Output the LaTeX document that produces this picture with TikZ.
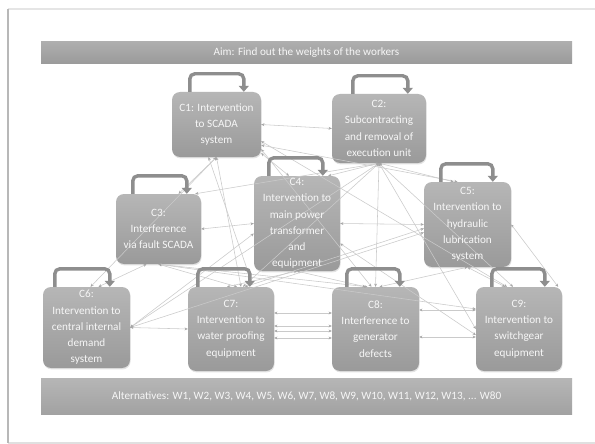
\documentclass[tikz,border=0pt]{standalone}
\usepackage{fontspec}
\setmainfont{Carlito}
\usetikzlibrary{arrows.meta,shadows}

\definecolor{boxtop}{HTML}{B6B6B6}
\definecolor{boxbot}{HTML}{9A9A9A}
\definecolor{bartop}{HTML}{AEAEAE}
\definecolor{barbot}{HTML}{9A9A9A}
\definecolor{bbartop}{HTML}{B6B6B6}
\definecolor{bbarbot}{HTML}{A2A2A2}
\definecolor{loopc}{HTML}{8E8E8E}
\definecolor{linkc}{HTML}{CACACA}
\definecolor{tipc}{HTML}{A6A6A6}
\definecolor{txtc}{HTML}{F6F6F6}

\newcommand\cloop[3]{%
  \draw[loopline] ([xshift=#2pt]#1.north west) -- ++(0,-18) -| ([xshift=#3pt]#1.north west);}

\begin{document}
\begin{tikzpicture}[x=1pt,y=-1pt,
  cbox/.style={draw=none, rounded corners=8pt, top color=boxtop, bottom color=boxbot,
    inner sep=0pt, drop shadow={shadow xshift=0.6pt,shadow yshift=-1.4pt,opacity=0.22}},
  ctext/.style={text=txtc, align=center, font=\fontsize{11.2}{16.3}\selectfont, inner sep=0pt},
  barbox/.style={draw=none, inner sep=0pt, text=txtc, font=\fontsize{11.2}{14}\selectfont},
  loopline/.style={draw=loopc, line width=3.4pt, rounded corners=5pt,
    -{Triangle[length=6pt,width=10pt]}},
  link/.style={draw=linkc, line width=0.55pt,
    {Stealth[length=3.2pt,width=2.8pt,color=tipc]}-{Stealth[length=3.2pt,width=2.8pt,color=tipc]}}
]
\useasboundingbox (0,0) rectangle (595,444);
\fill[white] (0,0) rectangle (595,444);

% outer frame
\draw[draw=black!10, line width=2pt] (8,9) -- (596,9);
\draw[draw=black!12, line width=1.5pt] (8,443) -- (596,443);
\draw[draw=black!28, line width=1.6pt] (8,9) -- (8,443);

% bars
\node[barbox, top color=bartop, bottom color=barbot, minimum width=531pt, minimum height=22pt]
  (aim) at (306.5,53) {Aim: Find out the weights of the workers};
\node[barbox, top color=bbartop, bottom color=bbarbot, minimum width=531pt, minimum height=36pt]
  (alt) at (306.5,396) {Alternatives: W1, W2, W3, W4, W5, W6, W7, W8, W9, W10, W11, W12, W13, ... W80};

% boxes
\node[cbox, minimum width=89pt, minimum height=65pt] (C1) at (216.5,124.5) {};
\node[cbox, minimum width=94pt, minimum height=69pt] (C2) at (379,128.5) {};
\node[cbox, minimum width=85pt, minimum height=70pt] (C3) at (158.5,229) {};
\node[cbox, minimum width=86pt, minimum height=95pt] (C4) at (297,223.5) {};
\node[cbox, minimum width=87pt, minimum height=85pt] (C5) at (467.5,224.5) {};
\node[cbox, minimum width=87pt, minimum height=81pt] (C6) at (86.5,327.5) {};
\node[cbox, minimum width=86pt, minimum height=84pt] (C7) at (231,329) {};
\node[cbox, minimum width=87pt, minimum height=84pt] (C8) at (375.5,329) {};
\node[cbox, minimum width=86pt, minimum height=84pt] (C9) at (519,329) {};

% connectors
\draw[link] (C1.east) -- (C2.west);
\draw[link] (C1.south) -- ([xshift=20pt]C3.north);
\draw[link] (C1.south) -- ([xshift=4pt]C6.north);
\draw[link] (C1.south) -- ([xshift=10pt]C7.north);
\draw[link] ([yshift=4pt]C1.south east) -- ([xshift=-8pt]C4.north);
\draw[link] ([yshift=8pt]C1.south east) -- ([xshift=-4pt]C8.north);
\draw[link] ([yshift=12pt]C1.south east) -- ([xshift=-10pt]C5.north);
\draw[link] ([yshift=16pt]C1.south east) -- ([xshift=-12pt]C9.north);
\draw[link] ([xshift=-8pt]C1.south) -- ([xshift=-6pt]C4.south west);
\draw[link] (C2.south) -- ([xshift=-6pt]C3.north east);
\draw[link] (C2.south) -- ([xshift=-12pt]C4.north east);
\draw[link] (C2.south) -- (C6.east);
\draw[link] (C2.south) -- ([xshift=12pt]C7.north);
\draw[link] (C2.south) -- (C8.north);
\draw[link] (C2.south) -- ([xshift=-6pt]C9.north);
\draw[link] (C2.south) -- ([xshift=-14pt]C5.north);
\draw[link] (C2.south) -- (C9.west);
\draw[link] (C3.east) -- (C4.west);
\draw[link] (C3.south) -- ([xshift=6pt]C7.north);
\draw[link] (C3.south) -- ([xshift=-8pt]C8.north);
\draw[link] (C3.south) -- ([yshift=20pt]C9.west);
\draw[link] ([xshift=-12pt]C3.south) -- ([xshift=12pt]C6.north);
\draw[link] (C4.east) -- (C5.west);
\draw[link] ([yshift=-10pt]C4.west) -- (C6.east);
\draw[link] (C4.south) -- ([xshift=-4pt]C7.north);
\draw[link] (C4.south) -- ([xshift=-10pt]C8.north);
\draw[link] ([yshift=-20pt]C4.east) -- ([yshift=-6pt]C9.west);
\draw[link] ([yshift=-8pt]C5.west) -- (C6.east);
\draw[link] ([yshift=-4pt]C5.west) -- ([xshift=14pt]C7.north);
\draw[link] (C5.south) -- ([xshift=-14pt]C9.north);
\draw[link] (C5.south) -- ([xshift=4pt]C8.north);
\draw[link] (C5.east) -- ([xshift=-4pt]C9.north east);
\draw[link] (C6.east) -- (C7.west);
\draw[link] ([yshift=16pt]C7.east) -- ([yshift=16pt]C8.west);
\draw[link] ([yshift=3pt]C7.east) -- ([yshift=3pt]C8.west);
\draw[link] ([yshift=-2pt]C7.east) -- ([yshift=-2pt]C8.west);
\draw[link] ([yshift=-9pt]C7.east) -- ([yshift=-9pt]C8.west);
\draw[link] ([yshift=19pt]C8.east) -- ([yshift=19pt]C9.west);
\draw[link] ([yshift=-8pt]C8.east) -- ([yshift=-8pt]C9.west);

% self loops
\cloop{C1}{18}{72}
\cloop{C2}{21}{76}
\cloop{C3}{17}{71}
\cloop{C4}{15}{69}
\cloop{C5}{17}{69}
\cloop{C6}{12}{67}
\cloop{C7}{10}{62}
\cloop{C8}{15}{68}
\cloop{C9}{16}{69}

% texts
\node[ctext] (T1) at (C1) {C1: Intervention\\to SCADA\\system};
\node[ctext] (T2) at (C2) {C2:\\Subcontracting\\and removal of\\execution unit};
\node[ctext] (T3) at (C3) {C3:\\Interference\\via fault SCADA};
\node[ctext] (T4) at (C4) {C4:\\Intervention to\\main power\\transformer\\and\\equipment};
\node[ctext] (T5) at (C5) {C5:\\Intervention to\\hydraulic\\lubrication\\system};
\node[ctext] (T6) at (C6) {C6:\\Intervention to\\central internal\\demand\\system};
\node[ctext] (T7) at (C7) {C7:\\Intervention to\\water proofing\\equipment};
\node[ctext] (T8) at (C8) {C8:\\Interference to\\generator\\defects};
\node[ctext] (T9) at (C9) {C9:\\Intervention to\\switchgear\\equipment};
\end{tikzpicture}
\end{document}
